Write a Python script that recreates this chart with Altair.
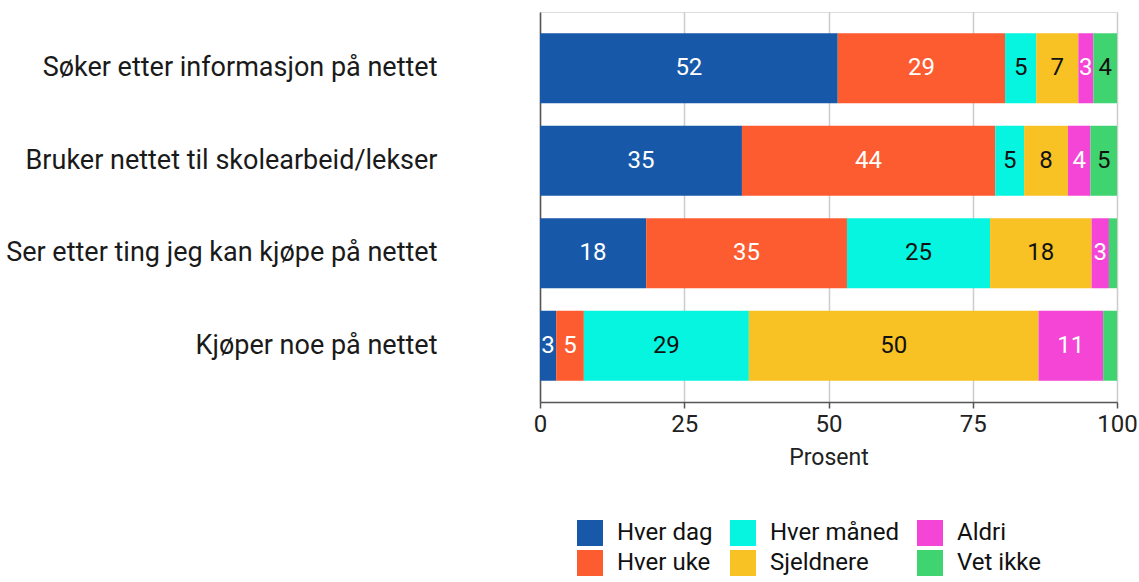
import altair as alt
import pandas as pd

categories = [
    "Søker etter informasjon på nettet",
    "Bruker nettet til skolearbeid/lekser",
    "Ser etter ting jeg kan kjøpe på nettet",
    "Kjøper noe på nettet",
]
series = ["Hver dag", "Hver uke", "Hver måned", "Sjeldnere", "Aldri", "Vet ikke"]
colors = ["#1759a8", "#fd5b30", "#06f5e0", "#f8c124", "#f445d6", "#3fd46f"]
text_colors = ["#ffffff", "#ffffff", "#111111", "#111111", "#ffffff", "#111111"]

hver_dag = [51.6, 35.0, 18.4, 2.8]
hver_uke = [29.0, 43.9, 34.8, 4.8]
hver_maned = [5.4, 5.0, 24.8, 28.6]
sjeldnere = [7.3, 7.6, 17.6, 50.2]
aldri = [2.6, 3.9, 3.0, 11.2]
vet_ikke = [4.1, 4.6, 1.4, 2.4]

vals = [hver_dag, hver_uke, hver_maned, sjeldnere, aldri, vet_ikke]
rows = []
for si, s in enumerate(series):
    for ci, c in enumerate(categories):
        rows.append({"cat": c, "serie": s, "ord": si, "value": vals[si][ci],
                     "tc": text_colors[si]})
df = pd.DataFrame(rows)

FONT = "Roboto"

base = alt.Chart(df).transform_stack(
    stack="value", as_=["x0", "x1"], groupby=["cat"], sort=[alt.SortField("ord")]
).transform_calculate(mid="(datum.x0 + datum.x1) / 2")

y_enc = alt.Y("cat:N", sort=categories, title=None,
              scale=alt.Scale(paddingInner=0.245, paddingOuter=0.23),
              axis=alt.Axis(labelFontSize=27, labelColor="#1a1a1a", labelFont=FONT,
                            labelPadding=103, ticks=False, domain=True,
                            domainColor="#555555", domainWidth=1.5, labelLimit=600))

bars = base.mark_bar().encode(
    x=alt.X("x0:Q", title="Prosent",
            scale=alt.Scale(domain=[0, 100], nice=False),
            axis=alt.Axis(values=[0, 25, 50, 75, 100], labelFontSize=24,
                          labelColor="#222222", labelFont=FONT, labelFlush=False,
                          titleFontSize=23, titleFont=FONT, titleFontWeight="normal",
                          titleColor="#222222", titlePadding=10,
                          gridColor="#cccccc", gridWidth=1.5,
                          domainColor="#555555", domainWidth=1.5,
                          tickColor="#555555", tickSize=6, tickWidth=1.5, labelPadding=4)),
    x2="x1:Q",
    y=y_enc,
    color=alt.Color("serie:N",
                    scale=alt.Scale(domain=series, range=colors),
                    legend=alt.Legend(title=None, orient="none", legendX=37, legendY=508,
                                      columns=3, symbolType="square", symbolSize=676,
                                      symbolStrokeWidth=0, labelFontSize=24,
                                      labelFont=FONT, labelColor="#111111",
                                      labelOffset=14, columnPadding=17, rowPadding=4,
                                      symbolOpacity=1, labelLimit=300)),
    order=alt.Order("ord:Q"),
)

labels = base.transform_filter("datum.value >= 2.5").mark_text(
    fontSize=24, font=FONT, baseline="middle", align="center"
).encode(
    x=alt.X("mid:Q"),
    y=alt.Y("cat:N", sort=categories),
    text=alt.Text("value:Q", format=".0f"),
    color=alt.Color("tc:N", scale=None),
)

chart = alt.layer(bars, labels).properties(
    width=577, height=390,
    autosize=alt.AutoSizeParams(type="none"),
    padding={"left": 540, "top": 12, "right": 22, "bottom": 180},
).configure_view(stroke=None).configure(background="white")

chart.save("out.html", embed_options={"renderer": "svg", "actions": False})
